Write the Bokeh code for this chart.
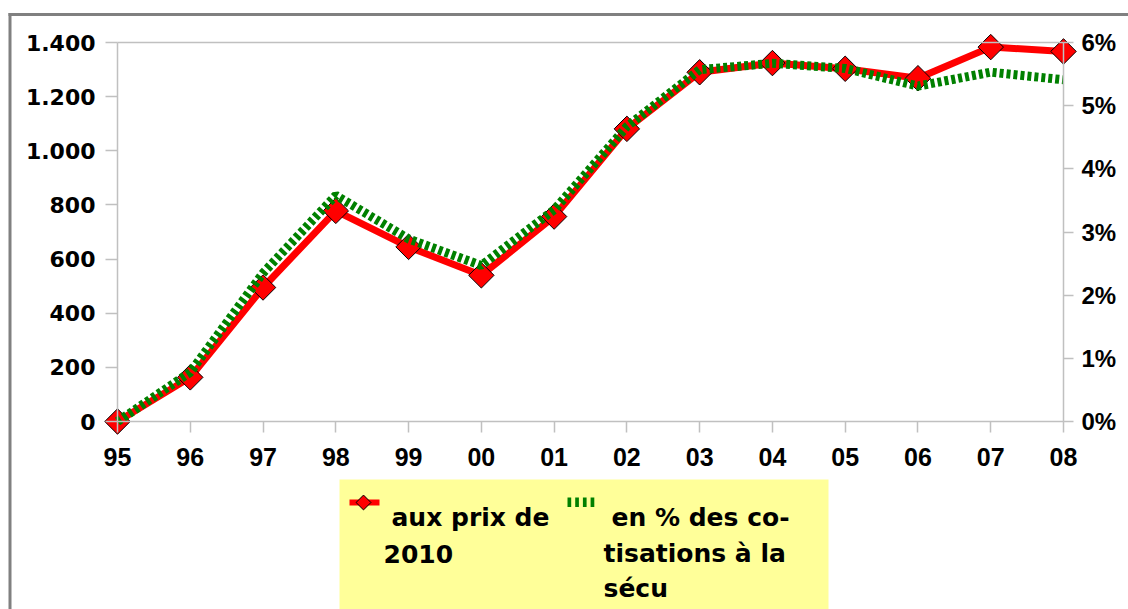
import numpy as np
from bokeh.plotting import figure
from bokeh.models import Range1d, LinearAxis, FixedTicker
from bokeh.core.properties import value
from bokeh.embed import file_html
from bokeh.resources import INLINE

# ---------------- data ----------------
years = ["95", "96", "97", "98", "99", "00", "01", "02", "03", "04", "05", "06", "07", "08"]
prix_2010 = [0, 163, 495, 778, 645, 540, 757, 1081, 1290, 1324, 1303, 1268, 1383, 1367]
pct_cotisations = [0, 0.78, 2.35, 3.58, 2.89, 2.47, 3.35, 4.67, 5.57, 5.67, 5.59, 5.31, 5.53, 5.41]
left_ticks = [0, 200, 400, 600, 800, 1000, 1200, 1400]
left_labels = ["0", "200", "400", "600", "800", "1.000", "1.200", "1.400"]
right_ticks = [0, 1, 2, 3, 4, 5, 6]
right_labels = ["0%", "1%", "2%", "3%", "4%", "5%", "6%"]
legend_red = ["aux prix de", "2010"]
legend_green = ["en % des co-", "tisations à la", "sécu"]

x = list(range(len(years)))
n = len(years) - 1
YMAX, PMAX = left_ticks[-1], right_ticks[-1]

# ---------------- layout (pixels of the picture) ----------------
W, H = 1128, 609
FL, FR, FT, FB = 117, 1063, 42, 421          # plot area in pixels
sx = (FR - FL) / n                              # px per category
sy = (FB - FT) / YMAX                           # px per unit

def X(px):
    return (px - FL) / sx

def Y(py):
    return (FB - py) / sy

AX = "#C0C0C0"

p = figure(width=W, height=H, output_backend="svg", toolbar_location=None,
           x_range=Range1d(X(0), X(W)), y_range=Range1d(Y(H), Y(0)),
           min_border=0, min_border_left=0, min_border_right=0,
           min_border_top=0, min_border_bottom=0)
p.background_fill_color = "white"
p.border_fill_color = "white"
p.outline_line_color = None
p.xgrid.visible = False
p.ygrid.visible = False

p.extra_y_ranges = {"pct": Range1d(Y(H) * PMAX / YMAX, Y(0) * PMAX / YMAX)}

def style_axis(ax, size, font, tick_out, standoff):
    ax.axis_line_color = AX
    ax.axis_line_width = 1.5
    ax.major_tick_line_color = AX
    ax.major_tick_line_width = 1.5
    ax.major_tick_in = 0
    ax.major_tick_out = tick_out
    ax.minor_tick_line_color = None
    ax.major_label_text_font = font
    ax.major_label_text_font_style = "bold"
    ax.major_label_text_font_size = size
    ax.major_label_text_color = "black"
    ax.major_label_standoff = standoff

# left axis
yax = p.yaxis[0]
yax.ticker = FixedTicker(ticks=left_ticks)
yax.major_label_overrides = dict(zip(left_ticks, left_labels))
yax.fixed_location = 0
yax.bounds = (0, YMAX)
style_axis(yax, "22px", "DejaVu Sans", 12, 10)

# bottom axis
xax = p.xaxis[0]
xax.ticker = FixedTicker(ticks=x)
xax.major_label_overrides = dict(zip(x, years))
xax.fixed_location = 0
xax.bounds = (0, n)
style_axis(xax, "25px", "Liberation Sans", 11, 15)

# right axis
rax = LinearAxis(y_range_name="pct", ticker=FixedTicker(ticks=right_ticks),
                 major_label_overrides=dict(zip(right_ticks, right_labels)),
                 fixed_location=n, bounds=(0, PMAX))
style_axis(rax, "24px", "Liberation Sans", 10, 8)
p.add_layout(rax, "right")

# top border line of the plot area
tax = LinearAxis(ticker=FixedTicker(ticks=[]), fixed_location=YMAX, bounds=(0, n))
tax.axis_line_color = AX
tax.axis_line_width = 1.5
tax.major_tick_line_color = None
tax.minor_tick_line_color = None
tax.major_label_text_font_size = "0px"
p.add_layout(tax, "above")

# ---------------- series ----------------
p.line(x, prix_2010, line_color="#FF0000", line_width=7)
p.scatter(x, prix_2010, marker="square", angle=np.pi / 4, size=18,
          fill_color="#FF0000", line_color="black", line_width=1)
p.line(x, pct_cotisations, y_range_name="pct", line_color="#008000",
       line_width=9, line_dash="4 3")

# ---------------- outer gray frame ----------------
p.quad(left=[X(8)], right=[X(11)], top=[Y(12.5)], bottom=[Y(H)],
       fill_color="#808080", line_color=None)
p.quad(left=[X(8)], right=[X(W)], top=[Y(12.5)], bottom=[Y(15.5)],
       fill_color="#808080", line_color=None)

# ---------------- legend ----------------
p.quad(left=[X(339)], right=[X(828)], top=[Y(479)], bottom=[Y(H)],
       fill_color="#FFFF99", line_color=None)
p.quad(left=[X(349)], right=[X(379)], top=[Y(499)], bottom=[Y(505)],
       fill_color="#FF0000", line_color=None)
p.scatter([X(363)], [Y(502)], marker="square", angle=np.pi / 4, size=10.5,
          fill_color="#FF0000", line_color="black", line_width=1)
dash_l = [X(567 + i * 7.7) for i in range(4)]
dash_r = [X(570.7 + i * 7.7) for i in range(4)]
p.quad(left=dash_l, right=dash_r, top=[Y(497)] * 4, bottom=[Y(506.5)] * 4,
       fill_color="#008000", line_color=None)

leg_x = [X(391), X(383), X(611), X(603), X(603)]
leg_y = [Y(517), Y(553), Y(517), Y(553), Y(588)]
leg_t = legend_red + legend_green
p.text(leg_x, leg_y, text=leg_t, text_font=value("DejaVu Sans"),
       text_font_style="bold", text_font_size="25px", text_color="black",
       text_baseline="alphabetic", text_align="left")

open("out.html", "w").write(file_html(p, INLINE))
